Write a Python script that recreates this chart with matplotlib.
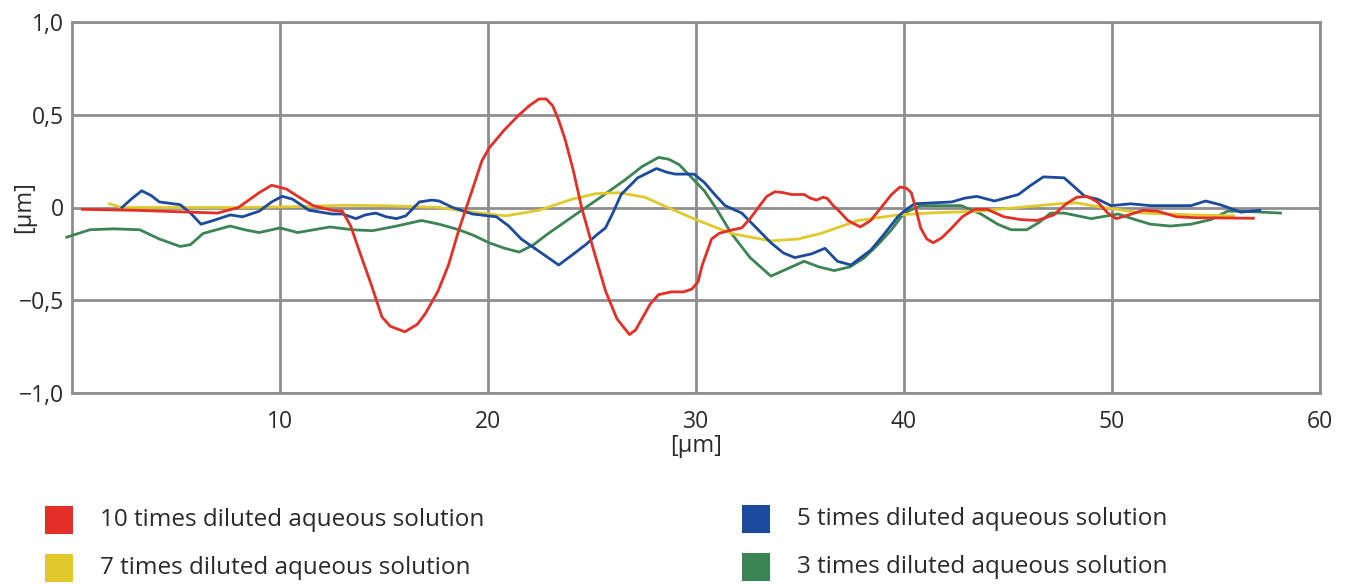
import matplotlib
matplotlib.use('Agg')
import matplotlib.pyplot as plt
from matplotlib.patches import Rectangle

# data
red_x = [0.5, 3, 7, 8, 9, 9.6, 10.3, 11, 11.6, 12.5, 13.0, 13.4, 13.8, 14.4, 14.9, 15.3, 16.0, 16.6, 17.0,
         17.6, 18.1, 18.6, 19.2, 19.7, 20.05, 20.8, 21.5, 22.0, 22.45, 22.8, 23.1, 23.4, 23.7, 24.1, 24.5,
         25.0, 25.65, 26.2, 26.8, 27.1, 27.4, 27.8, 28.2, 28.8, 29.4, 29.8, 30.1, 30.3, 30.75, 31.1, 31.55,
         32.2, 32.6, 33.0, 33.4, 33.8, 34.2, 34.6, 35.2, 35.5, 35.8, 36.1, 36.3, 36.6, 36.8, 37.3, 37.9,
         38.4, 38.9, 39.4, 39.8, 40.1, 40.35, 40.6, 40.8, 41.1, 41.4, 41.8, 42.3, 42.8, 43.4, 44.0, 44.8,
         45.6, 46.4, 47.2, 47.8, 48.3, 48.8, 49.3, 49.8, 50.2, 50.8, 51.5, 52.2, 53.1, 54.0, 56.8]
red_y = [-0.01, -0.015, -0.03, 0.0, 0.08, 0.12, 0.10, 0.05, 0.01, -0.015, -0.02, -0.10, -0.23, -0.42, -0.59,
         -0.64, -0.67, -0.63, -0.57, -0.45, -0.31, -0.12, 0.08, 0.25, 0.32, 0.42, 0.50, 0.55, 0.585, 0.585,
         0.55, 0.47, 0.37, 0.20, 0.0, -0.20, -0.45, -0.60, -0.685, -0.66, -0.60, -0.52, -0.47, -0.455, -0.455,
         -0.44, -0.40, -0.31, -0.17, -0.14, -0.125, -0.11, -0.06, 0.0, 0.06, 0.085, 0.08, 0.07, 0.07, 0.05,
         0.04, 0.055, 0.05, 0.01, -0.01, -0.07, -0.105, -0.07, 0.0, 0.07, 0.11, 0.105, 0.08, -0.02, -0.11,
         -0.17, -0.19, -0.165, -0.11, -0.05, -0.01, -0.01, -0.05, -0.065, -0.07, -0.04, 0.02, 0.055, 0.06,
         0.03, -0.03, -0.06, -0.04, -0.015, -0.02, -0.05, -0.055, -0.058]

yellow_x = [1.8, 2.4, 5, 8, 11, 13, 15, 17.65, 18.9, 20.85, 22.45, 24.05, 25.2, 26.3, 27.55, 28.85, 30.1,
            31.7, 33.6, 34.9, 36.0, 37.8, 39.7, 41.15, 43.5, 45.5, 47.4, 48.3, 49.3, 51.5, 53.9, 55.85]
yellow_y = [0.02, 0.0, 0.0, 0.0, 0.005, 0.012, 0.01, 0.0, -0.02, -0.045, -0.015, 0.045, 0.075, 0.08, 0.055,
            -0.01, -0.07, -0.14, -0.18, -0.17, -0.14, -0.07, -0.04, -0.03, -0.02, 0.0, 0.02, 0.025, 0.005,
            -0.03, -0.04, -0.045]

blue_x = [2.4, 2.9, 3.35, 3.8, 4.2, 5.2, 5.7, 6.2, 6.8, 7.6, 8.2, 9.0, 9.6, 10.1, 10.6, 11.4, 12.5, 13.0,
          13.65, 14.1, 14.6, 15.1, 15.6, 16.05, 16.7, 17.3, 17.65, 18.3, 19.25, 20.4, 21.0, 21.6, 22.5, 23.4,
          24.0, 24.7, 25.2, 25.65, 26.0, 26.4, 27.2, 28.1, 28.6, 29.0, 29.9, 30.4, 30.9, 31.4, 32.2, 32.9,
          33.6, 34.2, 34.75, 35.55, 36.2, 36.8, 37.45, 38.4, 39.0, 39.7, 40.0, 40.5, 42.3, 42.9, 43.5, 44.35,
          45.5, 46.1, 46.7, 47.7, 48.2, 48.7, 49.3, 49.95, 50.9, 51.85, 53.8, 54.5, 55.2, 56.2, 57.1]
blue_y = [0.0, 0.05, 0.09, 0.065, 0.03, 0.015, -0.03, -0.09, -0.07, -0.04, -0.05, -0.02, 0.03, 0.06, 0.045,
          -0.015, -0.035, -0.035, -0.06, -0.04, -0.03, -0.05, -0.06, -0.045, 0.03, 0.04, 0.035, 0.0, -0.035,
          -0.05, -0.10, -0.17, -0.24, -0.31, -0.26, -0.20, -0.15, -0.11, -0.03, 0.07, 0.16, 0.21, 0.19, 0.18,
          0.18, 0.135, 0.07, 0.01, -0.03, -0.11, -0.19, -0.245, -0.27, -0.25, -0.22, -0.29, -0.31, -0.23,
          -0.15, -0.05, -0.02, 0.02, 0.03, 0.05, 0.06, 0.035, 0.07, 0.12, 0.165, 0.16, 0.11, 0.06, 0.045,
          0.01, 0.02, 0.01, 0.01, 0.035, 0.015, -0.025, -0.015]

green_x = [-0.25, 0.86, 2.0, 3.26, 4.2, 5.2, 5.7, 6.3, 7.6, 8.3, 9.0, 10.0, 10.85, 12.4, 13.5, 14.45, 15.6,
           16.8, 17.65, 18.6, 19.3, 20.05, 20.8, 21.5, 22.2, 22.9, 23.8, 24.7, 25.6, 26.6, 27.4, 28.2, 28.7,
           29.2, 29.8, 30.4, 31.0, 31.7, 32.6, 33.6, 34.4, 35.2, 35.9, 36.65, 37.4, 38.1, 38.75, 39.4, 40.0,
           40.8, 42.75, 43.7, 44.5, 45.15, 45.9, 46.5, 47.05, 47.7, 49.0, 50.3, 51.1, 51.85, 52.8, 53.8,
           54.75, 55.55, 56.3, 58.1]
green_y = [-0.16, -0.12, -0.115, -0.12, -0.17, -0.21, -0.20, -0.14, -0.10, -0.12, -0.135, -0.11, -0.135,
           -0.105, -0.12, -0.125, -0.10, -0.07, -0.09, -0.12, -0.15, -0.19, -0.22, -0.24, -0.20, -0.14, -0.07,
           0.0, 0.07, 0.15, 0.22, 0.27, 0.26, 0.23, 0.16, 0.09, -0.01, -0.14, -0.27, -0.37, -0.33, -0.29,
           -0.32, -0.34, -0.32, -0.27, -0.20, -0.12, -0.03, 0.01, 0.01, -0.035, -0.09, -0.12, -0.12, -0.08,
           -0.03, -0.03, -0.06, -0.035, -0.065, -0.09, -0.10, -0.09, -0.065, -0.02, -0.02, -0.03]

labels = ['10 times diluted aqueous solution', '7 times diluted aqueous solution',
          '5 times diluted aqueous solution', '3 times diluted aqueous solution']
colors = ['#e42f26', '#e2c92b', '#1b4a9e', '#3b8454']

x_ticks = [10, 20, 30, 40, 50, 60]
y_ticks = [-1.0, -0.5, 0, 0.5, 1.0]
y_tick_labels = ['\u22121,0', '\u22120,5', '0', '0,5', '1,0']

plt.rcParams['font.family'] = ['Open Sans', 'DejaVu Sans']
grid_c = '#8e8e92'
text_c = '#2a2a2a'

fig = plt.figure(figsize=(13.53, 5.84), dpi=100)
ax = fig.add_axes([72 / 1353, 191 / 584, 1248 / 1353, 371 / 584])

series = [(green_x, green_y, colors[3]), (yellow_x, yellow_y, colors[1]),
          (blue_x, blue_y, colors[2]), (red_x, red_y, colors[0])]
for xs, ys, c in series:
    ax.plot(xs, ys, color=c, linewidth=2.0, solid_joinstyle='round', zorder=3, clip_on=False)

ax.set_xlim(0, 60)
ax.set_ylim(-1.0, 1.0)
ax.set_xticks(x_ticks)
ax.set_xticklabels([str(t) for t in x_ticks])
ax.set_yticks(y_ticks)
ax.set_yticklabels(y_tick_labels)
ax.tick_params(length=0, labelsize=16.5, colors=text_c)
ax.tick_params(axis='y', pad=6)
ax.tick_params(axis='x', pad=12)
ax.grid(True, color=grid_c, linewidth=2.0, zorder=1)
ax.set_axisbelow(True)
for s in ax.spines.values():
    s.set_color(grid_c)
    s.set_linewidth(2.0)

ax.set_xlabel('[\u00b5m]', fontsize=17, color=text_c)
ax.xaxis.set_label_coords(0.5, -0.11)
ax.set_ylabel('[\u00b5m]', fontsize=17, color=text_c)
ax.yaxis.set_label_coords(-0.029, 0.5)

# legend below the plot: two columns, square swatches
pos = [(45, 520), (45, 568), (742, 519), (742, 567)]
for i in range(len(labels)):
    px, py = pos[i]
    fig.add_artist(Rectangle((px / 1353, (584 - py - 14) / 584), 28 / 1353, 28 / 584,
                             transform=fig.transFigure, color=colors[i], lw=0))
    fig.text((px + 55) / 1353, (584 - py) / 584, labels[i], fontsize=17.5, color=text_c,
             va='center', ha='left')

fig.savefig('out.png', dpi=100)
